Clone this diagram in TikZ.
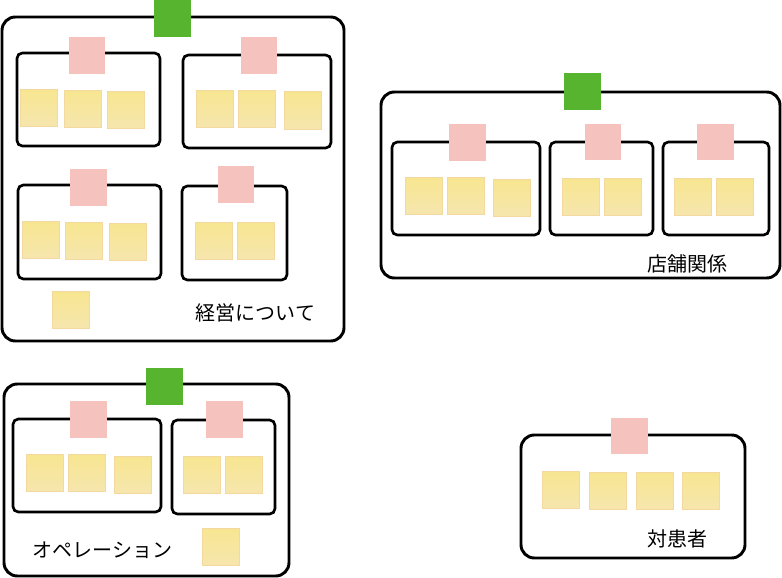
\documentclass[tikz,border=0pt]{standalone}
\usepackage{fontspec}
\setmainfont{Noto Sans CJK JP}
\definecolor{framegreen}{HTML}{57B42F}
\definecolor{notepink}{HTML}{F5C2BE}
\definecolor{notetop}{HTML}{F7E690}
\definecolor{notelow}{HTML}{F6E6AE}
\definecolor{noteedge}{HTML}{F3D8A0}

\begin{document}
\begin{tikzpicture}[x=0.75pt,y=-0.75pt]
	\tikzstyle{every node}+=[inner sep=0pt,outer sep=0pt]
	\tikzstyle{outerbox}=[black,line width=2.2pt,rounded corners=10pt]
	\tikzstyle{innerbox}=[black,line width=2pt,rounded corners=4pt]
	\tikzstyle{theme}=[fill=framegreen,minimum size=27.75pt]
	\tikzstyle{head}=[fill=notepink,minimum size=27.5pt]
	\tikzstyle{sticky}=[top color=notetop,bottom color=notelow,draw=noteedge,line width=0.6pt,minimum size=28pt]
	\tikzstyle{caption}=[font=\fontsize{15pt}{17pt}\selectfont,text=black]
	\useasboundingbox (0,0) rectangle (782,578);
	% frames
	\draw [outerbox] (2,17) rectangle (344,341);
	\draw [outerbox] (381,92) rectangle (780,278);
	\draw [outerbox] (4,384) rectangle (289,576);
	\draw [outerbox] (521,435) rectangle (745,558);
	\draw [innerbox] (17,53) rectangle (160,146);
	\draw [innerbox] (183,55) rectangle (331,148);
	\draw [innerbox] (18,185) rectangle (161,279);
	\draw [innerbox] (182,186) rectangle (287,280);
	\draw [innerbox] (392,142) rectangle (540,235);
	\draw [innerbox] (550,142) rectangle (653,235);
	\draw [innerbox] (663,142) rectangle (769,235);
	\draw [innerbox] (13,419) rectangle (161,512);
	\draw [innerbox] (172,420) rectangle (275,514);
	% top left
	\draw (172.5,18.5) node [theme] (themeA) {};
	\draw (87,55.5) node [head] (headA) {};
	\draw (259,55.5) node [head] (headB) {};
	\draw (88.5,187.5) node [head] (headC) {};
	\draw (236,184.5) node [head] (headD) {};
	\draw (39,108) node [sticky] (noteA1) {};
	\draw (83,109) node [sticky] (noteA2) {};
	\draw (126,110) node [sticky] (noteA3) {};
	\draw (215,109) node [sticky] (noteB1) {};
	\draw (257,109) node [sticky] (noteB2) {};
	\draw (303,110.5) node [sticky] (noteB3) {};
	\draw (41,240) node [sticky] (noteC1) {};
	\draw (84,241) node [sticky] (noteC2) {};
	\draw (128,242) node [sticky] (noteC3) {};
	\draw (214,241) node [sticky] (noteD1) {};
	\draw (256,241) node [sticky] (noteD2) {};
	\draw (71,310) node [sticky] (noteA0) {};
	\draw (255.5,313) node [caption] (labelA) {経営について};
	% top right
	\draw (582.5,91.5) node [theme] (themeB) {};
	\draw (467.5,142.5) node [head] (headE) {};
	\draw (603,142) node [head] (headF) {};
	\draw (715.5,142) node [head] (headG) {};
	\draw (424,196) node [sticky] (noteE1) {};
	\draw (466,196) node [sticky] (noteE2) {};
	\draw (512,198) node [sticky] (noteE3) {};
	\draw (581,197) node [sticky] (noteF1) {};
	\draw (623,197) node [sticky] (noteF2) {};
	\draw (693,197) node [sticky] (noteG1) {};
	\draw (735,197) node [sticky] (noteG2) {};
	\draw (687,264) node [caption] (labelB) {店舗関係};
	% bottom left
	\draw (164.5,386.5) node [theme] (themeC) {};
	\draw (88.5,419.5) node [head] (headH) {};
	\draw (224.5,419.5) node [head] (headI) {};
	\draw (45,473) node [sticky] (noteH1) {};
	\draw (87,473) node [sticky] (noteH2) {};
	\draw (133,475) node [sticky] (noteH3) {};
	\draw (202,475) node [sticky] (noteI1) {};
	\draw (244,475) node [sticky] (noteI2) {};
	\draw (221,547) node [sticky] (noteC0) {};
	\draw (102.5,550) node [caption] (labelC) {オペレーション};
	% bottom right
	\draw (629.5,436) node [head] (headJ) {};
	\draw (561,490) node [sticky] (noteJ1) {};
	\draw (608,491) node [sticky] (noteJ2) {};
	\draw (655,491) node [sticky] (noteJ3) {};
	\draw (701,491) node [sticky] (noteJ4) {};
	\draw (677,539) node [caption] (labelD) {対患者};
\end{tikzpicture}
\end{document}
